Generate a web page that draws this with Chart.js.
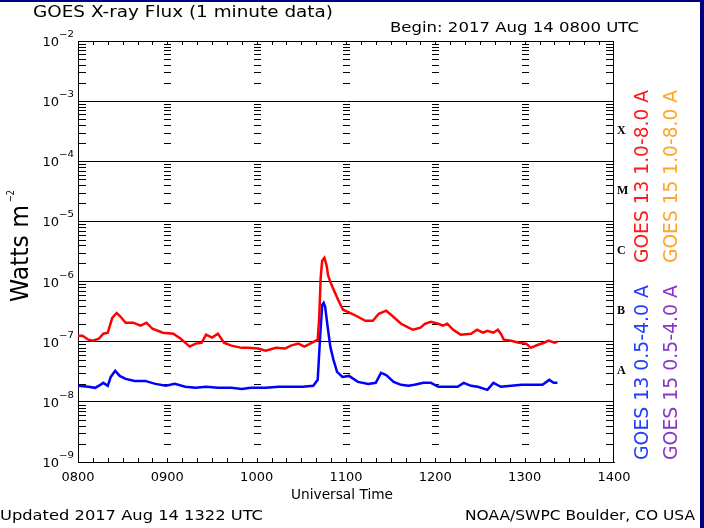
<!DOCTYPE html>
<html lang="en">
<head>
<meta charset="UTF-8">
<title>GOES X-ray Flux (1 minute data)</title>
<script src="https://cdn.jsdelivr.net/npm/chart.js"></script>
<style>
  html, body { margin: 0; padding: 0; background: #fff; }
  #wrap { width: 704px; height: 528px; position: relative; }
</style>
</head>
<body>
<div id="wrap"><canvas id="xray" width="704" height="528"></canvas></div>
<script>
// minutes after 0800 UTC, 2017 Aug 14
const hourMins = [0, 60, 120, 180, 240, 300, 360];
const hourLabels = ['0800', '0900', '1000', '1100', '1200', '1300', '1400'];
const decades = [1e-9, 1e-8, 1e-7, 1e-6, 1e-5, 1e-4, 1e-3, 1e-2];
const classLetters = ['A', 'B', 'C', 'M', 'X'];
const classValues = [3e-8, 3e-7, 3e-6, 3e-5, 3e-4];

// GOES 13 1.0-8.0 A (W m-2)
const g13LongMin = [0, 3, 7, 10, 14, 17, 20, 23, 26, 28, 32, 37, 42, 46, 50, 57, 64, 69, 75, 79,
  83, 86, 90, 94, 98, 103, 110, 114, 121, 126, 133, 139, 143, 148, 152, 156, 161, 162, 163, 164,
  165.5, 167, 168, 170, 172, 175, 178, 183, 188, 193, 198, 202, 207, 211, 217, 222, 225, 230, 233, 237,
  242, 245, 248, 252, 257, 264, 268, 272, 275, 279, 282, 284, 286, 291, 296, 301, 304, 309, 313, 316,
  320, 322];
const g13LongFlux = [1.26e-7, 1.26e-7, 1.08e-7, 1.04e-7, 1.12e-7, 1.36e-7, 1.41e-7, 2.5e-7, 3.0e-7, 2.7e-7,
  2.07e-7, 2.07e-7, 1.85e-7, 2.07e-7, 1.64e-7, 1.41e-7, 1.36e-7, 1.12e-7, 0.83e-7, 0.93e-7,
  0.96e-7, 1.31e-7, 1.17e-7, 1.36e-7, 0.96e-7, 0.86e-7, 0.79e-7, 0.79e-7, 0.77e-7, 0.71e-7,
  0.79e-7, 0.77e-7, 0.86e-7, 0.93e-7, 0.83e-7, 0.93e-7, 1.08e-7, 2.5e-7, 1.16e-6, 2.22e-6,
  2.49e-6, 1.84e-6, 1.25e-6, 9.2e-7, 7.05e-7, 4.8e-7, 3.4e-7, 3.0e-7, 2.6e-7, 2.23e-7,
  2.23e-7, 2.92e-7, 3.28e-7, 2.7e-7, 1.99e-7, 1.71e-7, 1.58e-7, 1.71e-7, 1.99e-7, 2.15e-7,
  1.99e-7, 1.85e-7, 1.99e-7, 1.58e-7, 1.31e-7, 1.36e-7, 1.58e-7, 1.41e-7, 1.52e-7, 1.41e-7,
  1.58e-7, 1.36e-7, 1.08e-7, 1.04e-7, 0.96e-7, 0.93e-7, 0.79e-7, 0.89e-7, 0.96e-7, 1.04e-7,
  0.96e-7, 1.0e-7];

// GOES 13 0.5-4.0 A (W m-2)
const g13ShortMin = [0, 7, 11.5, 15, 17, 20, 22, 25, 28, 32, 38, 45, 52, 59, 65, 72, 79, 86, 94, 103,
  110, 116, 126, 135, 143, 151, 158, 161, 162.5, 164, 165, 166, 167.5, 169.5, 171.6, 174, 177.6, 182, 188, 195,
  200, 203.5, 207, 212, 217, 222, 226, 232, 237, 242, 248, 255, 259, 264, 268.5, 275, 279, 284, 291, 298,
  303, 307, 312, 316.5, 319.5, 322];
const g13ShortFlux = [1.85e-8, 1.78e-8, 1.71e-8, 1.92e-8, 2.07e-8, 1.85e-8, 2.6e-8, 3.28e-8, 2.7e-8, 2.41e-8,
  2.23e-8, 2.23e-8, 1.99e-8, 1.85e-8, 1.99e-8, 1.78e-8, 1.71e-8, 1.78e-8, 1.71e-8, 1.71e-8,
  1.64e-8, 1.71e-8, 1.71e-8, 1.78e-8, 1.78e-8, 1.78e-8, 1.85e-8, 2.32e-8, 1.07e-7, 4.1e-7,
  4.43e-7, 3.8e-7, 1.91e-7, 8.2e-8, 5.0e-8, 3.15e-8, 2.6e-8, 2.7e-8, 2.15e-8, 1.99e-8,
  2.07e-8, 3.03e-8, 2.8e-8, 2.15e-8, 1.92e-8, 1.85e-8, 1.92e-8, 2.07e-8, 2.07e-8, 1.78e-8,
  1.78e-8, 1.78e-8, 2.07e-8, 1.85e-8, 1.78e-8, 1.58e-8, 2.07e-8, 1.78e-8, 1.85e-8, 1.92e-8,
  1.92e-8, 1.92e-8, 1.92e-8, 2.32e-8, 2.07e-8, 2.07e-8];

const FONT = '"DejaVu Sans", sans-serif';

// draw text squeezed/stretched to a given width (keeps it real text)
function drawFit(ctx, text, x, y, w, font, color, align, rot) {
  ctx.save();
  ctx.font = font;
  ctx.fillStyle = color;
  ctx.textBaseline = 'alphabetic';
  ctx.textAlign = align;
  ctx.translate(x, y);
  if (rot) ctx.rotate(rot);
  const m = ctx.measureText(text).width;
  ctx.scale(w / m, 1);
  ctx.fillText(text, 0, 0);
  ctx.restore();
}

const decorations = {
  id: 'decorations',
  beforeDatasetsDraw(chart) {
    const { ctx, chartArea: a, scales: { x, y } } = chart;
    ctx.save();
    ctx.strokeStyle = '#000';
    ctx.lineWidth = 1;
    ctx.beginPath();
    // log minor ticks on both y axes and at every inner hour
    for (let e = -9; e < -2; e++) {
      for (let k = 2; k <= 9; k++) {
        const py = Math.round(y.getPixelForValue(k * Math.pow(10, e))) + 0.5;
        ctx.moveTo(a.left, py); ctx.lineTo(a.left + 8, py);
        ctx.moveTo(a.right - 8, py); ctx.lineTo(a.right, py);
        hourMins.slice(1, -1).forEach(h => {
          const px = Math.round(x.getPixelForValue(h));
          ctx.moveTo(px - 3, py); ctx.lineTo(px + 4, py);
        });
      }
    }
    // 10 minute ticks, top and bottom
    for (let m = 10; m < 360; m += 10) {
      const px = Math.round(x.getPixelForValue(m)) + 0.5;
      ctx.moveTo(px, a.top); ctx.lineTo(px, a.top + 4);
      ctx.moveTo(px, a.bottom); ctx.lineTo(px, a.bottom - 4);
    }
    ctx.stroke();
    ctx.strokeRect(Math.round(a.left) + 0.5, Math.round(a.top) + 0.5,
      Math.round(a.width) - 1, Math.round(a.height));
    ctx.restore();
  },
  afterDraw(chart) {
    const { ctx, chartArea: a, scales: { y } } = chart;
    // y tick labels 10^n
    decades.forEach(v => {
      const py = y.getPixelForValue(v);
      const ex = Math.round(Math.log10(v));
      ctx.save();
      ctx.font = '13px ' + FONT;
      ctx.fillStyle = '#000';
      ctx.textAlign = 'right';
      ctx.fillText('10', 59, py + 5);
      ctx.restore();
      drawFit(ctx, '\u2212' + Math.abs(ex), 59, py - 4, 15, '9px ' + FONT, '#000', 'left', 0);
    });
    // flare class letters
    classLetters.forEach((c, i) => {
      ctx.save();
      ctx.font = 'bold 12px "Liberation Serif", serif';
      ctx.fillStyle = '#000';
      ctx.textAlign = 'left';
      ctx.textBaseline = 'middle';
      ctx.fillText(c, a.right + 3, y.getPixelForValue(classValues[i]) - 2);
      ctx.restore();
    });
    // titles
    drawFit(ctx, 'GOES X-ray Flux (1 minute data)', 33, 17, 300, '15px ' + FONT, '#000', 'left', 0);
    drawFit(ctx, 'Begin: 2017 Aug 14 0800 UTC', 390, 32, 249, '14px ' + FONT, '#000', 'left', 0);
    drawFit(ctx, 'Universal Time', 342, 499, 102, '14px ' + FONT, '#000', 'center', 0);
    drawFit(ctx, 'Updated 2017 Aug 14 1322 UTC', 0, 520, 263, '14px ' + FONT, '#000', 'left', 0);
    drawFit(ctx, 'NOAA/SWPC Boulder, CO USA', 695, 520, 230, '14px ' + FONT, '#000', 'right', 0);
    // y title
    drawFit(ctx, 'Watts m', 28, 302, 97, '24px ' + FONT, '#000', 'left', -Math.PI / 2);
    drawFit(ctx, '\u22122', 14, 202, 12, '10px ' + FONT, '#000', 'left', -Math.PI / 2);
    // channel legends
    const rot = -Math.PI / 2;
    drawFit(ctx, 'GOES 13 1.0-8.0 A', 648, 263, 173, '20px ' + FONT, '#ff1a1a', 'left', rot);
    drawFit(ctx, 'GOES 15 1.0-8.0 A', 677, 263, 173, '20px ' + FONT, '#ffa528', 'left', rot);
    drawFit(ctx, 'GOES 13 0.5-4.0 A', 648, 460, 175, '20px ' + FONT, '#1f3dff', 'left', rot);
    drawFit(ctx, 'GOES 15 0.5-4.0 A', 677, 460, 175, '20px ' + FONT, '#8a35c8', 'left', rot);
    // frame
    ctx.save();
    ctx.fillStyle = '#000080';
    ctx.fillRect(0, 0, 704, 2);
    ctx.fillRect(700, 0, 4, 528);
    ctx.restore();
  }
};

new Chart(document.getElementById('xray'), {
  type: 'line',
  data: {
    datasets: [
      {
        label: 'GOES 13 1.0-8.0 A',
        data: g13LongMin.map((t, i) => ({ x: t, y: g13LongFlux[i] })),
        borderColor: '#ff0000',
        borderWidth: 2.5,
        pointRadius: 0,
        tension: 0
      },
      {
        label: 'GOES 13 0.5-4.0 A',
        data: g13ShortMin.map((t, i) => ({ x: t, y: g13ShortFlux[i] })),
        borderColor: '#0000ff',
        borderWidth: 2.5,
        pointRadius: 0,
        tension: 0
      }
    ]
  },
  options: {
    responsive: false,
    animation: false,
    devicePixelRatio: 1,
    layout: { padding: { top: 41, right: 90, left: 0, bottom: 0 } },
    plugins: { legend: { display: false }, tooltip: { enabled: false } },
    scales: {
      x: {
        type: 'linear',
        min: 0,
        max: 360,
        afterBuildTicks: s => { s.ticks = hourMins.map(v => ({ value: v })); },
        afterFit: s => { s.height = 66; },
        ticks: {
          callback: (v, i) => hourLabels[i],
          color: '#000',
          font: { family: FONT, size: 13 },
          maxRotation: 0,
          padding: 0
        },
        grid: { display: false },
        border: { color: '#000' }
      },
      y: {
        type: 'logarithmic',
        min: 1e-9,
        max: 1e-2,
        afterBuildTicks: s => { s.ticks = decades.map(v => ({ value: v })); },
        afterFit: s => { s.width = 78; },
        ticks: { display: false },
        grid: { color: '#000', lineWidth: 1, drawTicks: false },
        border: { color: '#000' }
      }
    }
  },
  plugins: [decorations]
});
</script>
</body>
</html>
